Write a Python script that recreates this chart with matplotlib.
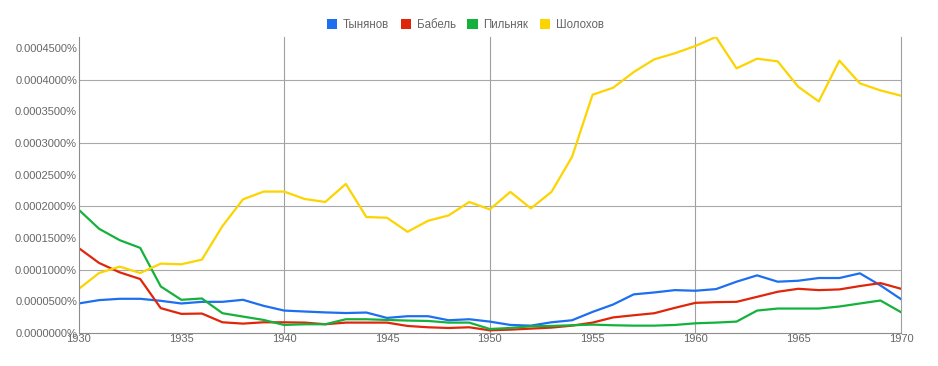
import matplotlib
matplotlib.use('Agg')
import matplotlib.pyplot as plt
from matplotlib.patches import Patch
from matplotlib.ticker import FuncFormatter, MultipleLocator

plt.rcParams['font.family'] = ['Liberation Sans', 'DejaVu Sans']

years = list(range(1930, 1971))

# values in percent
tynyanov = [0.0000466, 0.0000519, 0.0000540, 0.0000540, 0.0000508, 0.0000466, 0.0000492,
            0.0000492, 0.0000524, 0.0000429, 0.0000354, 0.0000339, 0.0000325, 0.0000315,
            0.0000323, 0.0000238, 0.0000265, 0.0000265, 0.0000201, 0.0000217, 0.0000180,
            0.0000127, 0.0000116, 0.0000169, 0.0000201, 0.0000333, 0.0000450, 0.0000610,
            0.0000640, 0.0000677, 0.0000667, 0.0000693, 0.0000810, 0.0000910, 0.0000810,
            0.0000825, 0.0000868, 0.0000868, 0.0000942, 0.0000751, 0.0000534]
babel = [0.0001344, 0.0001106, 0.0000958, 0.0000852, 0.0000392, 0.0000302, 0.0000307,
         0.0000169, 0.0000148, 0.0000169, 0.0000169, 0.0000164, 0.0000138, 0.0000164,
         0.0000164, 0.0000164, 0.0000111, 0.0000090, 0.0000079, 0.0000090, 0.0000042,
         0.0000053, 0.0000069, 0.0000085, 0.0000116, 0.0000164, 0.0000246, 0.0000280,
         0.0000312, 0.0000397, 0.0000476, 0.0000487, 0.0000492, 0.0000571, 0.0000651,
         0.0000698, 0.0000677, 0.0000688, 0.0000741, 0.0000788, 0.0000698]
pilnyak = [0.0001950, 0.0001646, 0.0001466, 0.0001344, 0.0000735, 0.0000524, 0.0000545,
           0.0000312, 0.0000259, 0.0000206, 0.0000127, 0.0000138, 0.0000138, 0.0000217,
           0.0000217, 0.0000206, 0.0000196, 0.0000190, 0.0000164, 0.0000164, 0.0000063,
           0.0000079, 0.0000106, 0.0000111, 0.0000122, 0.0000132, 0.0000122, 0.0000116,
           0.0000116, 0.0000127, 0.0000153, 0.0000164, 0.0000180, 0.0000354, 0.0000386,
           0.0000386, 0.0000386, 0.0000418, 0.0000466, 0.0000513, 0.0000328]
sholokhov = [0.0000693, 0.0000947, 0.0001048, 0.0000947, 0.0001095, 0.0001085, 0.0001159,
             0.0001688, 0.0002111, 0.0002233, 0.0002233, 0.0002116, 0.0002069, 0.0002354,
             0.0001831, 0.0001820, 0.0001598, 0.0001772, 0.0001857, 0.0002069, 0.0001952,
             0.0002228, 0.0001968, 0.0002228, 0.0002781, 0.0003763, 0.0003873, 0.0004121,
             0.0004322, 0.0004417, 0.0004533, 0.0004675, 0.0004179, 0.0004332, 0.0004290,
             0.0003889, 0.0003657, 0.0004301, 0.0003942, 0.0003831, 0.0003747]

names = ['Тынянов', 'Бабель', 'Пильняк', 'Шолохов']
colors = ['#1d6ff0', '#df260b', '#14b23c', '#fcd400']

fig = plt.figure(figsize=(9.38, 3.66), dpi=100)
ax = fig.add_axes([0.0837, 0.0902, 0.8769, 0.8088])

for series, c in zip([tynyanov, babel, pilnyak, sholokhov], colors):
    ax.plot(years, series, color=c, linewidth=1.6, solid_joinstyle='round')

ax.set_xlim(1930, 1970)
ax.set_ylim(0, max(sholokhov))

# grid lines: every 10 years, every 0.0001%
for yr in [1940, 1950, 1960, 1970]:
    ax.axvline(yr, color='#a0a0a0', linewidth=0.8, zorder=0, clip_on=False)
for v in [0.0001, 0.0002, 0.0003, 0.0004]:
    ax.axhline(v, color='#a8a8a8', linewidth=0.8, zorder=0)

ax.xaxis.set_major_locator(MultipleLocator(5))
ax.yaxis.set_major_locator(MultipleLocator(0.00005))
ax.yaxis.set_major_formatter(FuncFormatter(lambda v, p: f'{v:.7f}%'))

for side in ['top', 'right']:
    ax.spines[side].set_visible(False)
for side in ['left', 'bottom']:
    ax.spines[side].set_color('#8c8c8c')
    ax.spines[side].set_linewidth(0.8)

ax.tick_params(length=0, labelsize=8.0, labelcolor='#666666')
ax.tick_params(axis='y', pad=1)
ax.tick_params(axis='x', pad=1)

handles = [Patch(facecolor=c, edgecolor='none') for c in colors]
fig.legend(handles, names, loc='center', bbox_to_anchor=(0.496, 0.932), ncol=4,
           frameon=False, fontsize=8.3, labelcolor='#666666',
           handlelength=0.9, handleheight=0.9, handletextpad=0.5, columnspacing=1.0)

fig.savefig('out.png', dpi=100)
